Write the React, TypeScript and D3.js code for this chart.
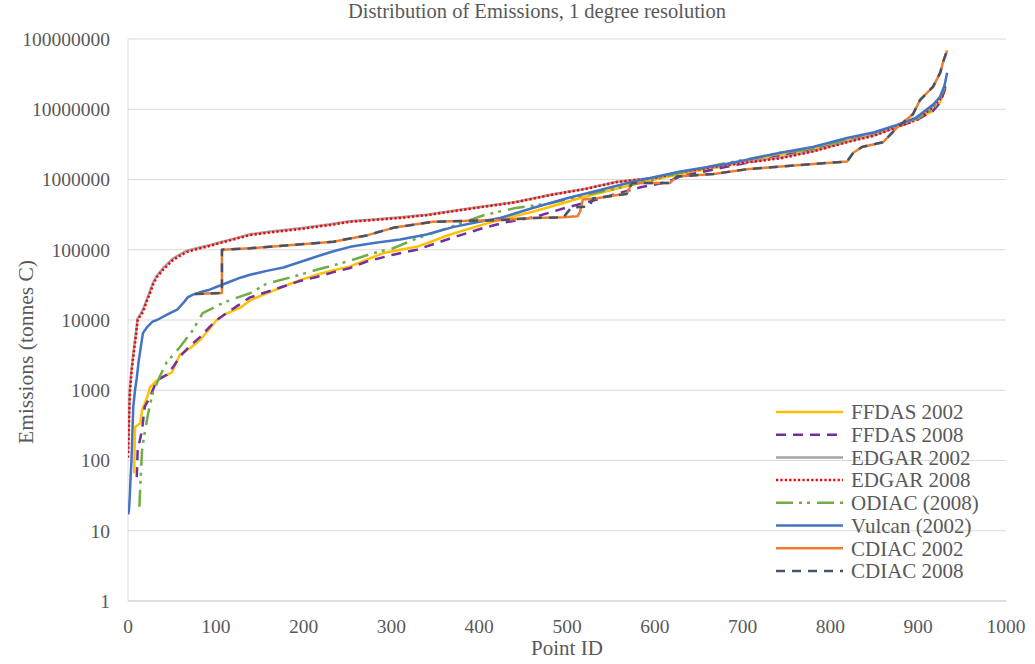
import React from 'react';
import * as d3 from 'd3';

const xTicks = [0, 100, 200, 300, 400, 500, 600, 700, 800, 900, 1000];
const yTicks = [1, 10, 100, 1000, 10000, 100000, 1000000, 10000000, 100000000];

const ffdas2002: [number, number][] = [
  [7, 66], [8, 300], [14, 340], [16, 520], [22, 800], [25, 1100], [32, 1350], [40, 1550], [50, 1800],
  [59, 3200], [71, 4000], [82, 5200], [93, 7500], [101, 10000], [110, 12000], [128, 15000], [139, 19000],
  [158, 24000], [177, 30000], [196, 37000], [215, 44000], [234, 51000], [253, 58000], [272, 72000],
  [291, 90000], [310, 100000], [329, 110000], [367, 165000], [405, 230000], [430, 280000], [462, 350000],
  [490, 440000], [518, 560000], [545, 680000], [575, 850000], [600, 1000000], [629, 1200000],
  [680, 1550000], [743, 2250000], [780, 2700000], [819, 3600000], [850, 4500000], [876, 5800000],
  [900, 7500000], [917, 9500000], [925, 12500000], [931, 20000000],
];

const ffdas2008: [number, number][] = [
  [10, 58], [11, 140], [16, 270], [19, 580], [25, 800], [33, 1400], [44, 1650], [52, 2200], [59, 3000],
  [70, 4200], [82, 5700], [93, 8000], [101, 10000], [112, 12500], [125, 16000], [139, 21000], [158, 25000],
  [177, 30000], [196, 36000], [215, 41000], [234, 48000], [253, 55000], [272, 68000], [302, 85000],
  [329, 100000], [367, 145000], [405, 205000], [430, 245000], [462, 290000], [500, 400000], [530, 500000],
  [557, 630000], [585, 780000], [614, 920000], [629, 1100000], [680, 1500000], [743, 2150000],
  [780, 2600000], [819, 3500000], [850, 4400000], [876, 5600000], [900, 7200000], [917, 9500000],
  [925, 12500000], [931, 20000000],
];

const edgar2002: [number, number][] = [
  [0, 130], [1, 350], [2, 1000], [4, 2000], [6, 3300], [9, 6500], [11, 10500], [14, 12000], [17, 14000],
  [21, 19000], [25, 26000], [29, 35000], [33, 43000], [40, 55000], [51, 75000], [60, 87000], [67, 97000],
  [80, 107000], [95, 118000], [105, 128000], [120, 143000], [139, 166000], [160, 180000], [196, 202000],
  [230, 230000], [253, 255000], [280, 270000], [310, 290000], [340, 315000], [367, 352000], [400, 405000],
  [440, 475000], [481, 605000], [520, 735000], [557, 930000], [600, 1060000], [632, 1290000],
  [680, 1620000], [743, 2050000], [780, 2550000], [819, 3450000], [850, 4300000], [876, 5700000],
  [900, 7400000], [917, 11000000], [925, 15000000], [931, 22000000],
];

const edgar2008: [number, number][] = [
  [0, 110], [1, 300], [2, 900], [4, 1800], [6, 3000], [9, 6000], [11, 10000], [14, 11500], [17, 13000],
  [21, 18000], [25, 24000], [29, 33000], [33, 41000], [40, 52000], [51, 71000], [60, 83000], [67, 93000],
  [80, 103000], [95, 115000], [105, 125000], [120, 140000], [139, 162000], [160, 175000], [196, 197000],
  [230, 225000], [253, 250000], [280, 265000], [310, 283000], [340, 310000], [367, 348000], [400, 400000],
  [440, 470000], [481, 600000], [520, 730000], [557, 920000], [600, 1050000], [632, 1280000],
  [680, 1600000], [743, 2000000], [780, 2500000], [819, 3400000], [850, 4200000], [876, 5600000],
  [900, 7200000], [917, 10700000], [925, 14000000], [931, 21000000],
];

const odiac2008: [number, number][] = [
  [13, 22], [14, 45], [16, 140], [19, 250], [23, 470], [28, 900], [36, 1550], [44, 2500], [59, 4100],
  [74, 7200], [85, 12500], [100, 15500], [108, 17500], [125, 21000], [139, 24000], [158, 33000],
  [177, 38000], [196, 44000], [215, 52000], [234, 60000], [253, 70000], [280, 90000], [302, 105000],
  [329, 145000], [367, 210000], [405, 310000], [440, 390000], [481, 460000], [520, 600000], [557, 750000],
  [600, 1000000], [629, 1250000], [680, 1700000], [743, 2400000], [780, 2700000], [819, 3700000],
  [850, 4600000], [876, 6000000], [900, 7500000], [917, 10000000], [923, 13000000], [930, 20000000],
];

const vulcan2002: [number, number][] = [
  [0, 17], [1, 19], [2, 30], [3, 60], [4, 100], [5, 250], [6, 580], [8, 1000], [10, 1500], [12, 2500],
  [14, 3700], [17, 6500], [22, 8000], [28, 9500], [33, 10000], [45, 12000], [56, 14000], [63, 17500],
  [68, 21000], [74, 23000], [85, 25500], [93, 27000], [105, 31000], [116, 35000], [128, 40000],
  [139, 44000], [158, 50000], [177, 56000], [196, 67000], [215, 80000], [234, 95000], [253, 110000],
  [280, 125000], [310, 140000], [340, 165000], [370, 210000], [400, 250000], [424, 283000],
  [460, 390000], [500, 540000], [540, 720000], [575, 930000], [629, 1300000], [680, 1650000],
  [743, 2400000], [780, 2900000], [819, 3900000], [850, 4700000], [876, 6000000], [897, 7500000],
  [910, 10000000], [918, 12000000], [925, 15000000], [930, 22000000], [933, 33000000],
];

const cdiac2002: [number, number][] = [
  [76, 23500], [90, 23800], [107, 24200], [107, 100000], [139, 105000], [180, 115000], [234, 130000],
  [253, 145000], [272, 160000], [302, 205000], [347, 250000], [424, 265000], [462, 283000],
  [496, 290000], [512, 300000], [515, 350000], [518, 520000], [534, 540000], [568, 630000],
  [574, 890000], [617, 890000], [625, 1100000], [667, 1200000], [705, 1400000], [762, 1600000],
  [819, 1800000], [826, 2400000], [836, 2900000], [860, 3400000], [876, 5500000], [894, 8500000],
  [902, 13500000], [917, 21000000], [925, 33000000], [929, 50000000], [933, 69000000],
];

const cdiac2008: [number, number][] = [
  [76, 23500], [90, 23800], [107, 24200], [107, 100000], [139, 105000], [180, 115000], [234, 130000],
  [253, 145000], [272, 160000], [302, 205000], [347, 250000], [424, 265000], [462, 283000],
  [496, 290000], [505, 400000], [525, 410000], [530, 540000], [568, 620000],
  [574, 890000], [617, 890000], [625, 1100000], [667, 1200000], [705, 1400000], [762, 1600000],
  [819, 1800000], [826, 2400000], [836, 2900000], [860, 3400000], [876, 5500000], [894, 8500000],
  [902, 13500000], [917, 21000000], [925, 33000000], [929, 50000000], [933, 69000000],
];

const seriesNames = ['FFDAS 2002', 'FFDAS 2008', 'EDGAR 2002', 'EDGAR 2008', 'ODIAC (2008)', 'Vulcan (2002)', 'CDIAC 2002', 'CDIAC 2008'];
const seriesData = [ffdas2002, ffdas2008, edgar2002, edgar2008, odiac2008, vulcan2002, cdiac2002, cdiac2008];

const styles = [
  { color: '#FFC000', dash: undefined as string | undefined, width: 2.5 },
  { color: '#7030A0', dash: '10 7', width: 2.5 },
  { color: '#A5A5A5', dash: undefined, width: 2.5 },
  { color: '#FF0000', dash: '2.2 2.2', width: 2.5 },
  { color: '#70AD47', dash: '17 6 3 5 3 7', width: 2.5 },
  { color: '#4472C4', dash: undefined, width: 2.5 },
  { color: '#ED7D31', dash: undefined, width: 2.5 },
  { color: '#44546A', dash: '9 7', width: 2.5 },
];

const W = 1035;
const H = 664;
const plot = { left: 128, right: 1006, top: 39, bottom: 601 };
const FONT = '"Liberation Serif", "Times New Roman", serif';
const TEXT = '#595959';

export default function App() {
  const x = d3.scaleLinear().domain([0, 1000]).range([plot.left, plot.right]);
  const y = d3.scaleLog().domain([1, 1e8]).range([plot.bottom, plot.top]);
  const line = d3.line<[number, number]>().x((d) => x(d[0])).y((d) => y(d[1]));

  return (
    <div style={{ position: 'absolute', left: 0, top: 0 }}>
      <svg width={W} height={H} style={{ display: 'block', background: '#fff' }}>
        <rect x={0} y={0} width={W} height={H} fill="#fff" />
        {yTicks.slice(1).map((t) => (
          <line key={t} x1={plot.left} x2={plot.right} y1={y(t)} y2={y(t)} stroke="#D9D9D9" strokeWidth={1} />
        ))}
        <line x1={plot.left} x2={plot.left} y1={plot.top} y2={plot.bottom} stroke="#D9D9D9" strokeWidth={1} />
        <line x1={plot.left} x2={plot.right} y1={plot.bottom} y2={plot.bottom} stroke="#BFBFBF" strokeWidth={1} />
        {yTicks.map((t) => (
          <text key={t} x={110} y={y(t)} dy="0.35em" textAnchor="end" fontFamily={FONT} fontSize={19.5} fill={TEXT}>
            {String(t)}
          </text>
        ))}
        {xTicks.map((t) => (
          <text key={t} x={x(t)} y={633} textAnchor="middle" fontFamily={FONT} fontSize={19.5} fill={TEXT}>
            {t}
          </text>
        ))}
        <text x={537} y={18} textAnchor="middle" fontFamily={FONT} fontSize={20.5} fill={TEXT}>
          Distribution of Emissions, 1 degree resolution
        </text>
        <text x={567} y={655} textAnchor="middle" fontFamily={FONT} fontSize={21} fill={TEXT}>
          Point ID
        </text>
        <text
          transform={`translate(33, 352) rotate(-90)`}
          textAnchor="middle"
          fontFamily={FONT}
          fontSize={21.5}
          fill={TEXT}
        >
          Emissions (tonnes C)
        </text>
        <g clipPath="url(#plotclip)">
          {seriesData.map((d, i) => (
            <path
              key={seriesNames[i]}
              d={line(d) || ''}
              fill="none"
              stroke={styles[i].color}
              strokeWidth={styles[i].width}
              strokeDasharray={styles[i].dash}
              strokeLinejoin="round"
            />
          ))}
        </g>
        <defs>
          <clipPath id="plotclip">
            <rect x={plot.left} y={plot.top - 5} width={plot.right - plot.left} height={plot.bottom - plot.top + 5} />
          </clipPath>
        </defs>
        {seriesNames.map((name, i) => {
          const yy = 412 + i * 22.7;
          return (
            <g key={name}>
              <line x1={776} x2={843} y1={yy} y2={yy} stroke={styles[i].color} strokeWidth={styles[i].width} strokeDasharray={styles[i].dash} />
              <text x={851} y={yy} dy="0.35em" fontFamily={FONT} fontSize={21} fill={TEXT}>
                {name}
              </text>
            </g>
          );
        })}
      </svg>
    </div>
  );
}
